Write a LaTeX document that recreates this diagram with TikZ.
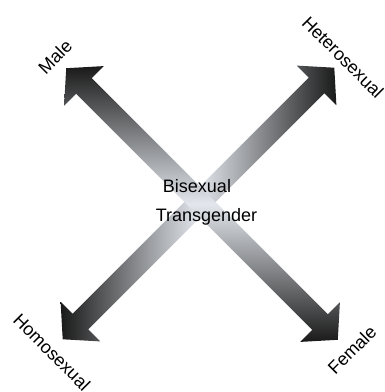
\documentclass[tikz,border=0pt]{standalone}
\usepackage{fontspec}
\setmainfont{Liberation Sans}
\usepackage{xcolor}
\colorlet{Dcol}{black!90}
\definecolor{Lcol}{HTML}{E3E7ED}
\tikzset{lbl/.style={font=\fontsize{18}{22}\selectfont, inner sep=0pt}}

\begin{document}
\begin{tikzpicture}[x=1pt, y=-1pt]
    \useasboundingbox (0,0) rectangle (385,392);

    % homosexual -- heterosexual
    \shade[left color=Dcol, right color=Dcol, middle color=Lcol]
        (334.3,67.7) -- (336.4,105.2) -- (324.4,93.2) -- (88.2,329.4) -- (100.2,341.4) -- (62.7,339.3)
        -- (60.6,301.8) -- (72.6,313.8) -- (308.8,77.6) -- (296.8,65.6) -- cycle;
    % male -- female
    \shade[top color=Dcol, bottom color=Dcol, middle color=Lcol]
        (337.8,339.8) -- (339.9,302.3) -- (327.9,314.3) -- (91.7,78.1) -- (103.7,66.1) -- (66.2,68.2)
        -- (64.1,105.7) -- (76.1,93.7) -- (312.3,329.9) -- (300.3,341.9) -- cycle;

    \node [lbl, rotate=45] (male) at (55,57) {Male};
    \node [lbl, rotate=-45] (hetero) at (343,57) {Heterosexual};
    \node [lbl, rotate=-45] (homo) at (52,352) {Homosexual};
    \node [lbl, rotate=45] (female) at (352,350) {Female};
    \node [lbl, anchor=base] (bi) at (197,192) {Bisexual};
    \node [lbl, anchor=base] (trans) at (206.5,221) {Transgender};
\end{tikzpicture}
\end{document}
